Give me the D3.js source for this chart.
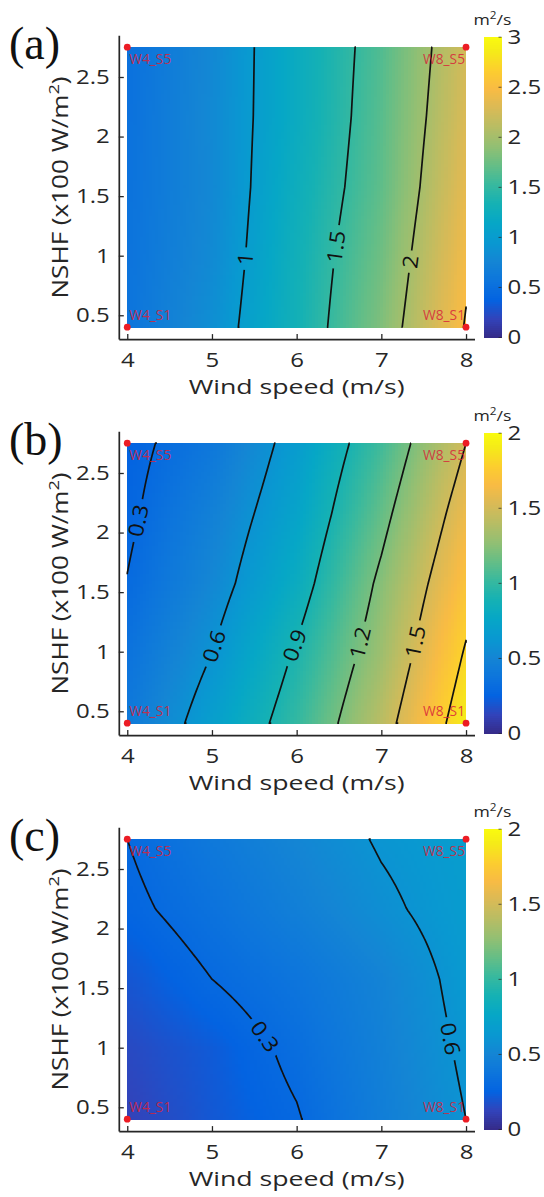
<!DOCTYPE html>
<html><head><meta charset="utf-8">
<script src="https://cdn.jsdelivr.net/npm/d3@7"></script>
<style>
body{margin:0;background:#fff}
svg{display:block}
</style>
</head><body>
<svg id="chart" width="544" height="1197" font-family="'Open Sans',sans-serif"></svg>
<script>
// ---------------- data ----------------
const windSpeeds = [4, 5, 6, 7, 8];
const nshfLevels = [0.4, 0.9875, 1.575, 2.1625, 2.75];
const xTickValues = [4, 5, 6, 7, 8];
const yTickValues = [0.5, 1, 1.5, 2, 2.5];
const panelNames = ["(a)", "(b)", "(c)"];
const cornerNames = ["W4_S1", "W8_S1", "W4_S5", "W8_S5"];
// rows: NSHF S1..S5 (bottom to top); columns: wind speed 4..8
const diffA = [
  [0.56, 0.86, 1.31, 1.83, 2.52],
  [0.55, 0.81, 1.29, 1.76, 2.45],
  [0.54, 0.79, 1.25, 1.69, 2.37],
  [0.53, 0.80, 1.21, 1.66, 2.30],
  [0.52, 0.79, 1.21, 1.63, 2.25]];
const diffB = [
  [0.41, 0.69, 1.00, 1.41, 1.92],
  [0.36, 0.60, 0.92, 1.31, 1.82],
  [0.305, 0.52, 0.81, 1.24, 1.71],
  [0.27, 0.47, 0.73, 1.14, 1.61],
  [0.25, 0.40, 0.67, 1.04, 1.50]];
const diffC = [
  [0.12, 0.21, 0.29, 0.45, 0.60],
  [0.15, 0.22, 0.33, 0.47, 0.625],
  [0.20, 0.30, 0.38, 0.49, 0.65],
  [0.27, 0.36, 0.46, 0.57, 0.67],
  [0.30, 0.41, 0.51, 0.615, 0.68]];
const levelsA = [1, 1.5, 2, 2.5];
const levelsB = [0.3, 0.6, 0.9, 1.2, 1.5, 1.8];
const levelsC = [0.3, 0.6];
// contour label anchors: [level, wind speed, NSHF]
const labelsA = [[1, 5.39, 0.97], [1.5, 6.49, 1.07], [2, 7.35, 0.96]];
const labelsB = [[0.3, 4.15, 2.10], [0.6, 5.03, 1.04], [0.9, 5.98, 1.05], [1.2, 6.72, 1.08], [1.5, 7.37, 1.09]];
const labelsC = [[0.3, 5.59, 1.07], [0.6, 7.78, 1.08]];
const colorMaxes = [3, 2, 2];
const cbTicksA = [0, 0.5, 1, 1.5, 2, 2.5, 3];
const cbTicksBC = [0, 0.5, 1, 1.5, 2];
const colorbarTitle = "m";
const xLabel = "Wind speed (m/s)";

// parula colormap anchors (subset of MATLAB table)
const parulaStops = [
  [0.2081,0.1663,0.5292],[0.1959,0.2645,0.7279],[0.0117,0.3875,0.8820],[0.0498,0.4586,0.8641],
  [0.0793,0.5200,0.8312],[0.0343,0.5966,0.8199],[0.0228,0.6535,0.7768],[0.0843,0.6928,0.7062],
  [0.2178,0.7250,0.6193],[0.3953,0.7459,0.5244],[0.5709,0.7485,0.4494],[0.7184,0.7411,0.3905],
  [0.8507,0.7299,0.3360],[0.9739,0.7314,0.2666],[0.9880,0.8066,0.1794],[0.9598,0.9218,0.0948],
  [0.9763,0.9831,0.0538]];
const parulaPos = [0,4,8,12,16,20,24,28,32,36,40,44,48,52,56,60,63].map(i => i/63);
const parula = d3.scaleLinear().domain(parulaPos)
  .range(parulaStops.map(c => d3.rgb(c[0]*255, c[1]*255, c[2]*255).toString()))
  .interpolate(d3.interpolateRgb).clamp(true);

// ---------------- drawing ----------------
const svg = d3.select("#chart");
const grids = [diffA, diffB, diffC];
const levelSets = [levelsA, levelsB, levelsC];
const labelSets = [labelsA, labelsB, labelsC];
const cbTickSets = [cbTicksA, cbTicksBC, cbTicksBC];
const panelOffsets = [0, 396, 792];
const xDomain = [3.9, 8.1], yDomain = [0.3, 2.85];
const axisColor = "#262626";
const fmt = d3.format("~g");

function stretch(sel, f) {
  sel.each(function () {
    const L = this.getComputedTextLength();
    this.setAttribute("textLength", L * f);
    this.setAttribute("lengthAdjust", "spacingAndGlyphs");
  });
}

function bilinear(grid, xv, yv) {
  let i = Math.min(windSpeeds.length - 2, Math.max(0, d3.bisectRight(windSpeeds, xv) - 1));
  let j = Math.min(nshfLevels.length - 2, Math.max(0, d3.bisectRight(nshfLevels, yv) - 1));
  const tx = (xv - windSpeeds[i]) / (windSpeeds[i+1] - windSpeeds[i]);
  const ty = (yv - nshfLevels[j]) / (nshfLevels[j+1] - nshfLevels[j]);
  const a = grid[j][i], b = grid[j][i+1], c = grid[j+1][i], d = grid[j+1][i+1];
  return (a*(1-tx) + b*tx)*(1-ty) + (c*(1-tx) + d*tx)*ty;
}

function drawPanel(p) {
  const oy = panelOffsets[p];
  const grid = grids[p], levels = levelSets[p], vmax = colorMaxes[p];
  const x = d3.scaleLinear().domain(xDomain).range([118.8, 474.5]);
  const y = d3.scaleLinear().domain(yDomain).range([339.1 + oy, 35.3 + oy]);
  const g = svg.append("g");
  const x0 = windSpeeds[0], x1 = windSpeeds[windSpeeds.length-1];
  const y0 = nshfLevels[0], y1 = nshfLevels[nshfLevels.length-1];

  // colour field
  const ncx = 110, ncy = 80;
  const cdx = (x1 - x0)/ncx, cdy = (y1 - y0)/ncy;
  const cells = [];
  for (let j = 0; j < ncy; j++) for (let i = 0; i < ncx; i++) {
    cells.push({i, j, v: bilinear(grid, x0 + (i+0.5)*cdx, y0 + (j+0.5)*cdy)});
  }
  const cw = x(x0 + cdx) - x(x0), ch = y(y0) - y(y0 + cdy);
  g.append("g").attr("shape-rendering", "crispEdges")
    .selectAll("rect").data(cells).join("rect")
    .attr("x", d => x(x0 + d.i*cdx))
    .attr("y", d => y(y0 + (d.j+1)*cdy))
    .attr("width", d => d.i === ncx-1 ? cw : cw + 0.8)
    .attr("height", d => d.j === ncy-1 ? ch : ch + 0.8)
    .attr("fill", d => parula(d.v / vmax));

  // contour lines
  const nx = 161, ny = 95;
  const dx = (x1 - x0)/(nx-1), dy = (y1 - y0)/(ny-1);
  const vals = new Array(nx*ny);
  for (let j = 0; j < ny; j++) for (let i = 0; i < nx; i++) vals[j*nx + i] = bilinear(grid, x0 + i*dx, y0 + j*dy);
  const contours = d3.contours().size([nx, ny]).thresholds(levels)(vals);
  const toPix = pt => [
    x(x0 + Math.max(0, Math.min(nx-1, pt[0] - 0.5))*dx),
    y(y0 + Math.max(0, Math.min(ny-1, pt[1] - 0.5))*dy)];
  const onBorder = (q, r) => (q[0] === 0 && r[0] === 0) || (q[0] === nx && r[0] === nx) ||
                             (q[1] === 0 && r[1] === 0) || (q[1] === ny && r[1] === ny);
  const lines = [];
  contours.forEach(c => {
    c.coordinates.forEach(poly => poly.forEach(ring => {
      let cur = [];
      for (let k = 1; k < ring.length; k++) {
        const q = ring[k-1], r = ring[k];
        if (onBorder(q, r)) { if (cur.length > 1) lines.push({v: c.value, pts: cur}); cur = []; continue; }
        if (cur.length === 0) cur.push(toPix(q));
        cur.push(toPix(r));
      }
      if (cur.length > 1) lines.push({v: c.value, pts: cur});
    }));
  });

  // contour labels (placement along the lines)
  const labelG = g.append("g");
  const gaps = [];
  labelSets[p].forEach(([lv, lx, ly]) => {
    const px = x(lx), py = y(ly);
    let best = null, bd = Infinity;
    lines.filter(l => Math.abs(l.v - lv) < 1e-9).forEach(l => l.pts.forEach((pt, idx) => {
      const d = (pt[0]-px)**2 + (pt[1]-py)**2;
      if (d < bd) { bd = d; best = {l, idx}; }
    }));
    if (!best) return;
    const pts = best.l.pts, c = pts[best.idx];
    let a = best.idx, b = best.idx;
    while (a > 0 && Math.hypot(pts[a][0]-c[0], pts[a][1]-c[1]) < 10) a--;
    while (b < pts.length-1 && Math.hypot(pts[b][0]-c[0], pts[b][1]-c[1]) < 10) b++;
    let ang = Math.atan2(pts[b][1]-pts[a][1], pts[b][0]-pts[a][0]) * 180/Math.PI;
    if (ang > 90) ang -= 180;
    if (ang <= -90) ang += 180;
    const t = labelG.append("text")
      .attr("transform", `translate(${c[0]},${c[1]}) rotate(${ang})`)
      .attr("text-anchor", "middle").attr("dy", "0.36em")
      .attr("font-size", 21).attr("fill", "#111")
      .text(fmt(lv));
    stretch(t, 1.1);
    gaps.push({x: c[0], y: c[1], ang, w: t.node().getComputedTextLength()*1.1 + 8});
  });

  const maskId = "gapmask" + p;
  const mask = svg.append("defs").append("mask").attr("id", maskId)
    .attr("maskUnits", "userSpaceOnUse").attr("x", 0).attr("y", 0).attr("width", 544).attr("height", 1197);
  mask.append("rect").attr("x", 0).attr("y", 0).attr("width", 544).attr("height", 1197).attr("fill", "#fff");
  mask.selectAll("rect.gap").data(gaps).join("rect").attr("class", "gap")
    .attr("x", d => -d.w/2).attr("y", -10).attr("width", d => d.w).attr("height", 20)
    .attr("transform", d => `translate(${d.x},${d.y}) rotate(${d.ang})`)
    .attr("fill", "#000");

  g.insert("g", () => labelG.node()).attr("mask", `url(#${maskId})`)
    .selectAll("path").data(lines).join("path")
    .attr("d", d => d3.line()(d.pts))
    .attr("fill", "none").attr("stroke", "#111").attr("stroke-width", 1.7)
    .attr("stroke-linejoin", "round");

  // axes
  const xAxis = d3.axisBottom(x).tickValues(xTickValues).tickSize(-5).tickSizeOuter(0).tickPadding(14).tickFormat(fmt);
  const yAxis = d3.axisLeft(y).tickValues(yTickValues).tickSize(-5).tickSizeOuter(0).tickPadding(9).tickFormat(fmt);
  const gx = g.append("g").attr("transform", `translate(0,${y.range()[0]})`).call(xAxis);
  const gy = g.append("g").attr("transform", `translate(${x.range()[0]},0)`).call(yAxis);
  [gx, gy].forEach(ax => {
    ax.attr("font-family", null).attr("font-size", null);
    ax.select(".domain").attr("stroke", axisColor).attr("stroke-width", 1.7);
    ax.selectAll(".tick line").attr("stroke", axisColor).attr("stroke-width", 1.3);
    ax.selectAll(".tick text").attr("fill", axisColor).attr("font-size", 20);
  });
  stretch(gx.selectAll(".tick text"), 1.2);
  stretch(gy.selectAll(".tick text"), 1.2);

  // axis labels
  const xl = g.append("text").attr("x", (x.range()[0] + x.range()[1])/2).attr("y", 394 + oy)
    .attr("text-anchor", "middle").attr("font-size", 20.5).attr("fill", axisColor).text(xLabel);
  xl.attr("textLength", 216).attr("lengthAdjust", "spacingAndGlyphs");
  const yl = g.append("text").attr("transform", `translate(68,${187.5 + oy}) rotate(-90)`)
    .attr("text-anchor", "middle").attr("font-size", 21.5).attr("fill", axisColor)
    .attr("textLength", 222).attr("lengthAdjust", "spacingAndGlyphs");
  yl.append("tspan").text("NSHF (x100 W/m");
  yl.append("tspan").attr("font-size", 15).attr("dy", -9).text("2");
  yl.append("tspan").attr("dy", 9).text(")");

  // corner markers
  const corners = [
    {name: cornerNames[0], xv: x0, yv: y0}, {name: cornerNames[1], xv: x1, yv: y0},
    {name: cornerNames[2], xv: x0, yv: y1}, {name: cornerNames[3], xv: x1, yv: y1}];
  g.selectAll("circle.corner").data(corners).join("circle").attr("class", "corner")
    .attr("cx", d => x(d.xv)).attr("cy", d => y(d.yv)).attr("r", 3.4).attr("fill", "#ec1c24");
  const ct = g.selectAll("text.corner").data(corners).join("text").attr("class", "corner")
    .attr("x", d => d.xv === x0 ? x(d.xv) + 2 : x(d.xv) - 1)
    .attr("y", d => d.yv === y1 ? y(d.yv) + 17 : y(d.yv) - 7)
    .attr("text-anchor", d => d.xv === x0 ? "start" : "end")
    .attr("font-size", 14).attr("fill", "#d8243a").attr("fill-opacity", 0.85)
    .text(d => d.name);
  ct.attr("textLength", 42).attr("lengthAdjust", "spacingAndGlyphs");

  // panel label
  g.append("text").attr("x", 9).attr("y", 59 + oy)
    .attr("font-family", "'Liberation Serif','Times New Roman',serif").attr("font-size", 46)
    .attr("fill", "#111").text(panelNames[p]);

  // colorbar
  const cb = d3.scaleLinear().domain([0, vmax]).range([337 + oy, 36.7 + oy]);
  const cbx = 483.5, cbw = 18;
  const steps = d3.range(150);
  g.append("g").attr("shape-rendering", "crispEdges").selectAll("rect").data(steps).join("rect")
    .attr("x", cbx).attr("width", cbw)
    .attr("y", k => cb(vmax*(k+1)/150))
    .attr("height", k => cb(vmax*k/150) - cb(vmax*(k+1)/150) + 0.6)
    .attr("fill", k => parula((k + 0.5)/150));
  const cbAxis = d3.axisRight(cb).tickValues(cbTickSets[p]).tickSize(-3).tickSizeOuter(0).tickPadding(6).tickFormat(fmt);
  const gc = g.append("g").attr("transform", `translate(${cbx + cbw},0)`).call(cbAxis);
  gc.attr("font-family", null).attr("font-size", null);
  gc.select(".domain").remove();
  gc.selectAll(".tick line").attr("stroke", axisColor).attr("stroke-opacity", 0.7);
  gc.selectAll(".tick text").attr("fill", axisColor).attr("font-size", 20);
  stretch(gc.selectAll(".tick text"), 1.2);
  const tt = g.append("text").attr("x", cbx + cbw/2).attr("y", 25 + oy).attr("text-anchor", "middle")
    .attr("font-size", 15).attr("fill", axisColor);
  tt.append("tspan").text(colorbarTitle);
  tt.append("tspan").attr("font-size", 10).attr("dy", -6).text("2");
  tt.append("tspan").attr("dy", 6).text("/s");
  tt.attr("textLength", 38).attr("lengthAdjust", "spacingAndGlyphs");
}

[0, 1, 2].forEach(drawPanel);
</script>
</body></html>
